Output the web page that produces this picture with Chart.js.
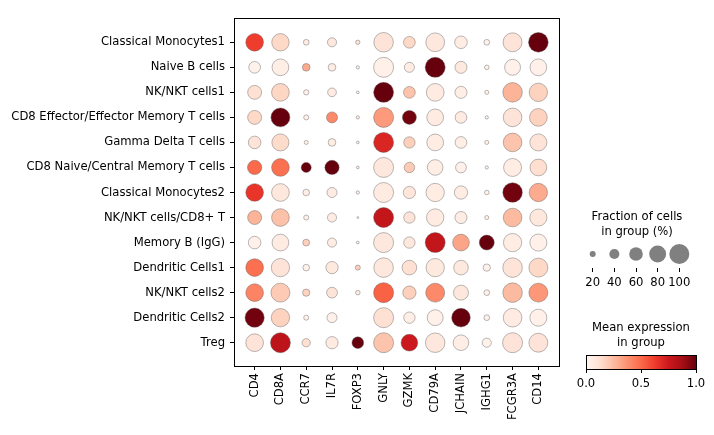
<!DOCTYPE html>
<html>
<head>
<meta charset="utf-8">
<script src="https://cdn.jsdelivr.net/npm/chart.js@4.4.1/dist/chart.umd.min.js"></script>
<style>
  body { margin: 0; background: #fff; }
  #wrap { position: relative; width: 714px; height: 435px; }
  #wrap canvas { position: absolute; left: 0; top: 0; }
</style>
</head>
<body>
<div id="wrap">
  <canvas id="dots" width="714" height="435"></canvas>
  <canvas id="sizes" width="714" height="435"></canvas>
  <canvas id="cbar" width="714" height="435"></canvas>
</div>
<script>
var genes = ['CD4','CD8A','CCR7','IL7R','FOXP3','GNLY','GZMK','CD79A','JCHAIN','IGHG1','FCGR3A','CD14'];
var groups = ['Classical Monocytes1','Naive B cells','NK/NKT cells1','CD8 Effector/Effector Memory T cells',
  'Gamma Delta T cells','CD8 Naive/Central Memory T cells','Classical Monocytes2','NK/NKT cells/CD8+ T',
  'Memory B (IgG)','Dendritic Cells1','NK/NKT cells2','Dendritic Cells2','Treg'];

// fraction of cells in group (%)
var fraction = [
  [85,83,19,35,13,97,49,92,54,19,93,98],
  [49,79,28,28,9,100,40,100,51,14,74,79],
  [62,85,17,33,7,100,49,85,51,12,97,89],
  [62,93,16,45,9,100,62,79,49,9,91,85],
  [54,81,12,28,7,100,47,79,49,12,91,81],
  [64,85,40,64,7,100,42,72,44,9,87,79],
  [85,85,23,40,9,100,52,89,58,14,97,89],
  [62,85,16,35,4,100,47,83,51,12,91,81],
  [54,79,24,35,7,100,47,100,79,68,89,81],
  [85,89,23,52,16,97,66,89,66,26,97,93],
  [85,93,26,44,14,100,58,93,68,19,97,93],
  [95,89,16,40,0,100,47,74,91,19,91,81],
  [85,100,31,52,49,100,79,97,72,35,100,93]
];
// mean expression in group (scaled 0..1)
var meanExpr = [
  [0.62,0.15,0.05,0.08,0.10,0.10,0.15,0.08,0.05,0.02,0.10,1.00],
  [0.02,0.04,0.30,0.05,0.02,0.03,0.05,1.00,0.07,0.02,0.03,0.03],
  [0.12,0.16,0.03,0.06,0.02,1.00,0.22,0.06,0.04,0.02,0.27,0.17],
  [0.15,1.00,0.03,0.40,0.05,0.35,0.98,0.06,0.06,0.02,0.10,0.17],
  [0.10,0.14,0.02,0.05,0.03,0.70,0.18,0.05,0.04,0.02,0.22,0.10],
  [0.50,0.48,1.00,1.00,0.05,0.08,0.20,0.04,0.03,0.02,0.05,0.13],
  [0.65,0.08,0.04,0.06,0.03,0.06,0.09,0.05,0.05,0.02,0.98,0.30],
  [0.27,0.23,0.03,0.05,0.03,0.78,0.10,0.06,0.05,0.02,0.25,0.08],
  [0.03,0.06,0.18,0.05,0.03,0.08,0.08,0.78,0.32,1.00,0.05,0.03],
  [0.48,0.10,0.02,0.07,0.18,0.08,0.12,0.07,0.07,0.02,0.10,0.15],
  [0.42,0.20,0.17,0.10,0.05,0.52,0.18,0.40,0.08,0.03,0.25,0.36],
  [0.98,0.17,0.02,0.03,0.00,0.12,0.04,0.03,1.00,0.02,0.06,0.03],
  [0.10,0.80,0.12,0.06,1.00,0.22,0.75,0.08,0.04,0.02,0.10,0.10]
];
var legendSizes = [20, 40, 60, 80, 100];
var cbarTicks = [0, 0.5, 1];

var FONT = { family: 'DejaVu Sans', size: 11.6 };
var MAXR = 10;
function radius(f) { return MAXR * Math.pow(f / 100, 0.75); }

// matplotlib "Reds"
var reds = ['#fff5f0','#fee0d2','#fcbba1','#fc9272','#fb6a4a','#ef3b2c','#cb181d','#a50f15','#67000d'];
function hex(h) { return [1,3,5].map(function(i){ return parseInt(h.substr(i,2),16); }); }
function redsColor(v) {
  v = Math.max(0, Math.min(1, v)) * 8;
  var i = Math.min(7, Math.floor(v)), t = v - i;
  var a = hex(reds[i]), b = hex(reds[i+1]);
  var c = a.map(function(x, k){ return Math.round(x + (b[k] - x) * t); });
  return 'rgb(' + c.join(',') + ')';
}

var points = [], colors = [];
groups.forEach(function(g, yi){
  genes.forEach(function(gn, xi){
    var f = fraction[yi][xi];
    if (!f) return;
    points.push({ x: xi, y: yi, r: radius(f) });
    colors.push(redsColor(meanExpr[yi][xi]));
  });
});

var frame = {
  id: 'frame',
  afterDatasetsDraw: function(chart) {
    var a = chart.chartArea, c = chart.ctx;
    c.save(); c.strokeStyle = '#000'; c.lineWidth = 1;
    c.strokeRect(Math.round(a.left) + 0.5, Math.round(a.top) + 0.5, Math.round(a.right - a.left), Math.round(a.bottom - a.top));
    c.restore();
  }
};

function titles(lines, cx, y0) {
  return {
    id: 'titles',
    afterDraw: function(chart) {
      var c = chart.ctx;
      c.save(); c.fillStyle = '#000'; c.font = '11.6px "DejaVu Sans"';
      c.textAlign = 'center'; c.textBaseline = 'middle';
      lines.forEach(function(l, i){ c.fillText(l, cx, y0 + i * 14.5); });
      c.restore();
    }
  };
}

new Chart(document.getElementById('dots'), {
  type: 'bubble',
  data: { datasets: [{ data: points, backgroundColor: colors, borderColor: 'rgba(90,90,90,0.7)', borderWidth: 0.6, hoverRadius: 0 }] },
  options: {
    responsive: false, animation: false,
    layout: { padding: { left: 0, right: 155, top: 18, bottom: 0 } },
    plugins: { legend: { display: false }, tooltip: { enabled: false } },
    scales: {
      x: {
        type: 'linear', min: -0.8, max: 11.8,
        afterBuildTicks: function(s){ s.ticks = genes.map(function(_, i){ return { value: i }; }); },
        afterFit: function(s){ s.height = 69; },
        ticks: { callback: function(v){ return genes[v]; }, minRotation: 90, maxRotation: 90, color: '#000', font: FONT, padding: 3 },
        grid: { drawOnChartArea: false, drawTicks: true, tickLength: 4, color: '#000' },
        border: { display: true, color: '#000' }
      },
      y: {
        type: 'linear', min: -0.97, max: 12.93, reverse: true,
        afterBuildTicks: function(s){ s.ticks = groups.map(function(_, i){ return { value: i }; }); },
        afterFit: function(s){ s.width = 234; },
        ticks: { callback: function(v){ return groups[v]; }, color: '#000', font: FONT, padding: 5 },
        grid: { drawOnChartArea: false, drawTicks: true, tickLength: 4, color: '#000' },
        border: { display: true, color: '#000' }
      }
    }
  },
  plugins: [frame]
});

new Chart(document.getElementById('sizes'), {
  type: 'bubble',
  data: { datasets: [{ data: legendSizes.map(function(s){ return { x: s, y: 0.5, r: radius(s) }; }),
    backgroundColor: '#808080', borderWidth: 0, hoverRadius: 0 }] },
  options: {
    responsive: false, animation: false,
    layout: { padding: { left: 581, right: 23, top: 240, bottom: 0 } },
    plugins: { legend: { display: false }, tooltip: { enabled: false } },
    scales: {
      x: {
        type: 'linear', min: 9.19, max: 110.8,
        afterBuildTicks: function(s){ s.ticks = legendSizes.map(function(v){ return { value: v }; }); },
        afterFit: function(s){ s.height = 167; },
        ticks: { color: '#000', font: FONT, padding: 4, maxRotation: 0 },
        grid: { drawOnChartArea: false, drawTicks: true, tickLength: 4, color: '#000' },
        border: { display: false }
      },
      y: { display: false, min: 0, max: 1 }
    }
  },
  plugins: [titles(['Fraction of cells', 'in group (%)'], 637, 217)]
});

var gradient = {
  id: 'gradient',
  beforeDatasetsDraw: function(chart) {
    var a = chart.chartArea, c = chart.ctx;
    var g = c.createLinearGradient(a.left, 0, a.right, 0);
    for (var i = 0; i <= 32; i++) g.addColorStop(i / 32, redsColor(i / 32));
    c.save(); c.fillStyle = g; c.fillRect(a.left, a.top, a.right - a.left, a.bottom - a.top); c.restore();
  }
};

new Chart(document.getElementById('cbar'), {
  type: 'scatter',
  data: { datasets: [{ data: [] }] },
  options: {
    responsive: false, animation: false,
    layout: { padding: { left: 586, right: 18, top: 355, bottom: 0 } },
    plugins: { legend: { display: false }, tooltip: { enabled: false } },
    scales: {
      x: {
        type: 'linear', min: 0, max: 1,
        afterBuildTicks: function(s){ s.ticks = cbarTicks.map(function(v){ return { value: v }; }); },
        afterFit: function(s){ s.height = 66; },
        ticks: { color: '#000', font: FONT, padding: 4, maxRotation: 0, callback: function(v){ return v.toFixed(1); } },
        grid: { drawOnChartArea: false, drawTicks: true, tickLength: 4, color: '#000' },
        border: { display: false }
      },
      y: { display: false, min: 0, max: 1 }
    }
  },
  plugins: [gradient, frame, titles(['Mean expression', 'in group'], 641, 328)]
});
</script>
</body>
</html>
